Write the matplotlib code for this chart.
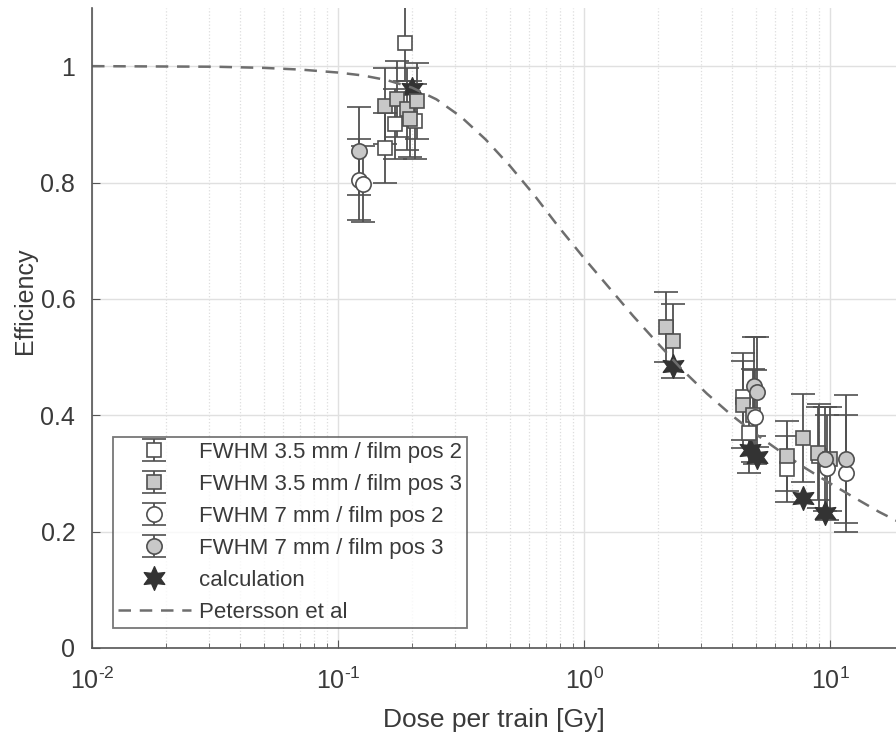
import numpy as np
import matplotlib
matplotlib.use("Agg")
import matplotlib.pyplot as plt
from matplotlib.path import Path
from matplotlib.ticker import LogLocator, FixedLocator, NullFormatter

plt.rcParams['font.family'] = ['Liberation Sans', 'DejaVu Sans']
plt.rcParams['mathtext.fontset'] = 'custom'
plt.rcParams['mathtext.rm'] = 'Liberation Sans'
plt.rcParams['mathtext.it'] = 'Liberation Sans'
plt.rcParams['mathtext.default'] = 'regular'
plt.rcParams['axes.unicode_minus'] = False

# FWHM 3.5 mm / film pos 2
sq2_dose = [0.155, 0.171, 0.187, 0.206, 4.43, 4.70, 6.68, 9.00]
sq2_eff  = [0.859, 0.900, 1.040, 0.905, 0.432, 0.370, 0.308, 0.330]
sq2_err  = [0.060, 0.060, 0.065, 0.065, 0.075, 0.070, 0.057, 0.090]

# FWHM 3.5 mm / film pos 3
sq3_dose = [0.155, 0.174, 0.190, 0.196, 0.209, 2.15, 2.30, 4.43, 4.85, 6.68, 7.76, 8.93, 10.0]
sq3_eff  = [0.931, 0.943, 0.926, 0.909, 0.940, 0.551, 0.528, 0.418, 0.400, 0.330, 0.361, 0.335, 0.325]
sq3_err  = [0.065, 0.065, 0.070, 0.065, 0.065, 0.060, 0.064, 0.075, 0.080, 0.060, 0.075, 0.080, 0.090]

# FWHM 7 mm / film pos 2
ci2_dose = [0.122, 0.126, 4.95, 9.70, 11.6]
ci2_eff  = [0.805, 0.797, 0.397, 0.310, 0.300]
ci2_err  = [0.070, 0.065, 0.080, 0.090, 0.100]

# FWHM 7 mm / film pos 3
ci3_dose = [0.122, 4.90, 5.05, 9.55, 11.6]
ci3_eff  = [0.854, 0.450, 0.440, 0.325, 0.324]
ci3_err  = [0.075, 0.085, 0.095, 0.090, 0.110]

# calculation
calc_dose = [0.200, 2.30, 4.73, 5.05, 7.76, 9.55]
calc_eff  = [0.960, 0.484, 0.341, 0.329, 0.258, 0.232]

# Petersson et al model curve
pet_dose = [0.01, 0.0316, 0.05, 0.0708, 0.1, 0.126, 0.158, 0.2, 0.251, 0.316,
            0.398, 0.501, 0.631, 0.794, 1.0, 1.26, 1.58, 2.0, 2.51, 3.16,
            3.98, 5.01, 6.31, 7.94, 10.0, 12.6, 15.8, 20.0]
pet_eff  = [1.000, 0.999, 0.997, 0.994, 0.989, 0.984, 0.976, 0.963, 0.943, 0.913,
            0.874, 0.828, 0.777, 0.722, 0.670, 0.620, 0.571, 0.523, 0.478, 0.437,
            0.400, 0.367, 0.337, 0.309, 0.283, 0.258, 0.234, 0.212]

labels = ['FWHM 3.5 mm / film pos 2', 'FWHM 3.5 mm / film pos 3',
          'FWHM 7 mm / film pos 2', 'FWHM 7 mm / film pos 3',
          'calculation', 'Petersson et al']

x_ticks = [0.01, 0.1, 1, 10]
x_ticklabels = ['$10^{\u20102}$', '$10^{\u20101}$', '$10^{0}$', '$10^{1}$']
y_ticks = [0, 0.2, 0.4, 0.6, 0.8, 1.0]
y_ticklabels = ['0', '0.2', '0.4', '0.6', '0.8', '1']

# six-pointed star (hexagram)
ang = np.pi / 2 + np.arange(12) * np.pi / 6
rad = np.where(np.arange(12) % 2 == 0, 1.0, 0.5)
verts = np.column_stack([rad * np.cos(ang), rad * np.sin(ang)])
verts = np.vstack([verts, verts[:1]])
hexagram = Path(verts, [Path.MOVETO] + [Path.LINETO] * 11 + [Path.CLOSEPOLY])

edge = '#505050'
gray_fill = '#c8c8c8'

fig = plt.figure(figsize=(8.96, 7.37), dpi=100)
ax = fig.add_axes([0.1027, 0.1208, 0.8973, 0.8684])

eb_kw = dict(ls='none', ecolor=edge, elinewidth=1.3, capsize=8.5, capthick=1.3,
             markeredgecolor=edge, markeredgewidth=1.2)

h1 = ax.errorbar(sq2_dose, sq2_eff, yerr=sq2_err, marker='s', ms=9.5,
                 markerfacecolor='white', label=labels[0], **eb_kw)
h2 = ax.errorbar(sq3_dose, sq3_eff, yerr=sq3_err, marker='s', ms=9.5,
                 markerfacecolor=gray_fill, label=labels[1], **eb_kw)
h3 = ax.errorbar(ci2_dose, ci2_eff, yerr=ci2_err, marker='o', ms=11,
                 markerfacecolor='white', label=labels[2], **eb_kw)
h4 = ax.errorbar(ci3_dose, ci3_eff, yerr=ci3_err, marker='o', ms=11,
                 markerfacecolor=gray_fill, label=labels[3], **eb_kw)
h5, = ax.plot(calc_dose, calc_eff, ls='none', marker=hexagram, ms=17,
              markerfacecolor='#333333', markeredgecolor='#333333', label=labels[4])
h6, = ax.plot(pet_dose, pet_eff, ls='--', dashes=(5, 3.5), color='#6e6e6e',
              lw=1.8, label=labels[5])

ax.set_xscale('log')
ax.set_xlim(0.01, 10 ** 1.268)
ax.set_ylim(0, 1.1)

ax.xaxis.set_major_locator(FixedLocator(x_ticks))
ax.set_xticklabels(x_ticklabels)
ax.xaxis.set_minor_locator(LogLocator(base=10, subs=np.arange(2, 10)))
ax.xaxis.set_minor_formatter(NullFormatter())
ax.set_yticks(y_ticks)
ax.set_yticklabels(y_ticklabels)

ax.grid(True, which='major', color='#e0e0e0', lw=1.0)
ax.grid(True, which='minor', axis='x', color='#dddddd', lw=0.9, ls=':')
ax.set_axisbelow(True)

for s in ['top', 'right']:
    ax.spines[s].set_visible(False)
for s in ['left', 'bottom']:
    ax.spines[s].set_color('#555555')
    ax.spines[s].set_linewidth(1.2)

ax.tick_params(which='both', direction='in', colors='#555555', labelcolor='#3a3a3a',
               labelsize=18, top=False, right=False)
ax.tick_params(which='major', length=6)
ax.tick_params(axis='x', which='major', pad=14)
ax.tick_params(axis='y', which='major', pad=12)
ax.tick_params(which='minor', length=3.5)

ax.set_xlabel('Dose per train [Gy]', fontsize=19, color='#3a3a3a', labelpad=10)
ax.set_ylabel('Efficiency', fontsize=18, color='#3a3a3a')
ax.yaxis.set_label_coords(-0.068, 0.542)

leg = ax.legend([h1, h2, h3, h4, h5, h6], labels, loc='lower left',
                bbox_to_anchor=(0.026, 0.031), fontsize=16, frameon=True,
                fancybox=False, edgecolor='#555555', labelspacing=0.5,
                handlelength=3.3, handletextpad=0.35, borderpad=0.22,
                borderaxespad=0)
leg.get_frame().set_linewidth(1.3)
for t in leg.get_texts():
    t.set_color('#3a3a3a')

fig.savefig('out.png', dpi=100, facecolor='white')
